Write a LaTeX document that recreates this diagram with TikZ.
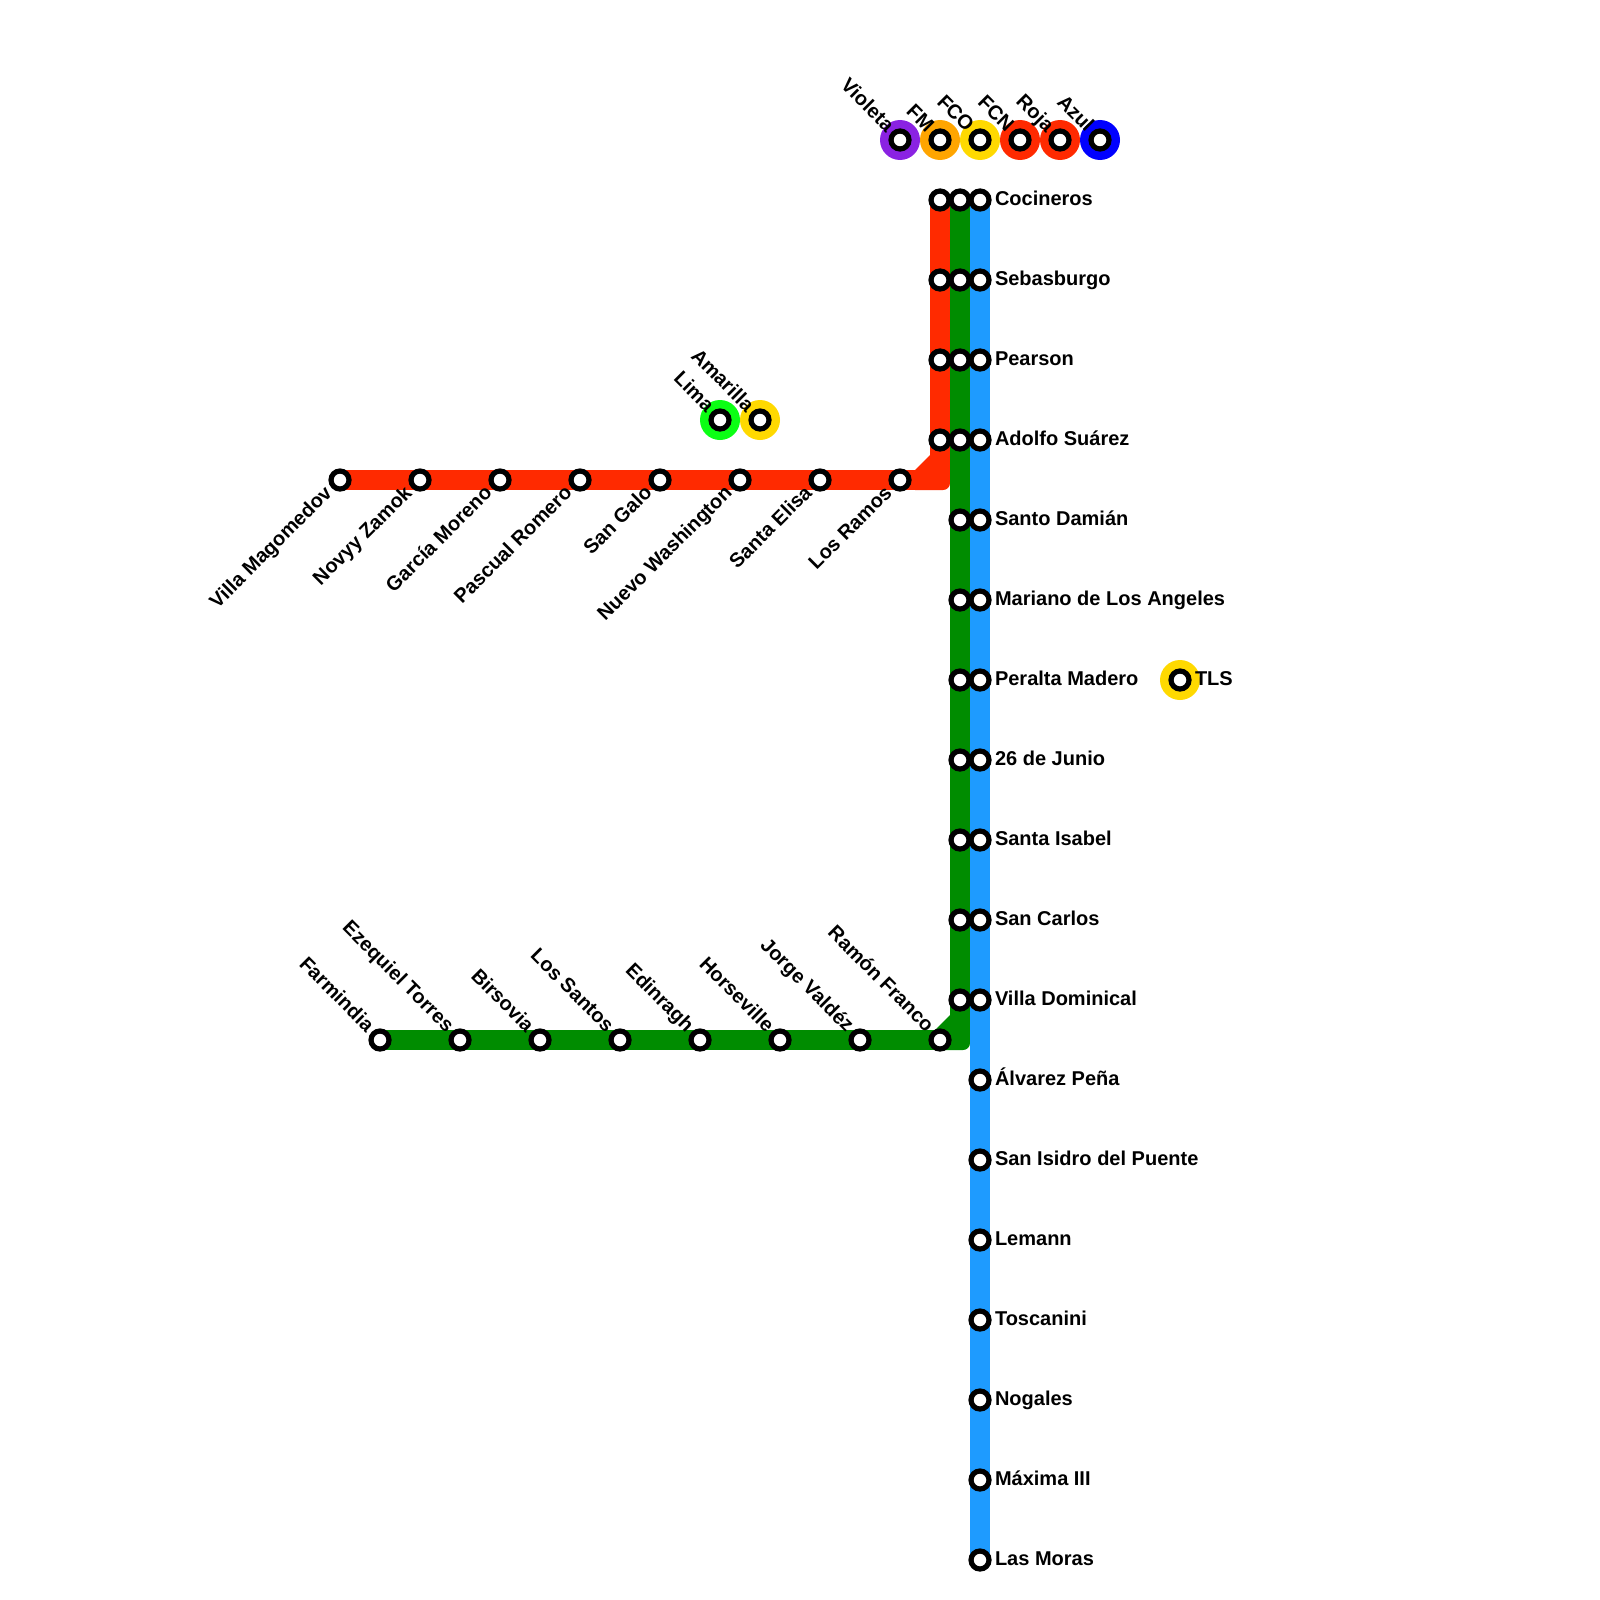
\documentclass[tikz,border=0pt]{standalone}
\usepackage{fontspec}
\setmainfont{Liberation Sans}
\usetikzlibrary{backgrounds}

\definecolor{linered}{HTML}{FF2A00}
\definecolor{linegreen}{HTML}{008C00}
\definecolor{lineblue}{HTML}{1E9BFF}
\definecolor{hubviolet}{HTML}{8A22E2}
\definecolor{huborange}{HTML}{FFA500}
\definecolor{hubyellow}{HTML}{FFD900}
\definecolor{hublime}{HTML}{0BFF14}
\definecolor{hubblue}{HTML}{0000FF}

\begin{document}
\begin{tikzpicture}[
    x=1pt, y=-1pt,
    stn/.style={circle, draw=black, fill=white, line width=5.2pt, minimum size=18pt, inner sep=0pt},
    hub/.style={circle, minimum size=40pt, inner sep=0pt, outer sep=0pt},
    metro/.style={line width=20pt, line join=round},
    lbl/.style={font=\fontsize{20}{24}\selectfont\bfseries, inner sep=0pt, outer sep=0pt},
    lbl-r/.style={lbl, anchor=base west, xshift=15pt, yshift=-5.4pt},
    lbl-up/.style={lbl, anchor=base east, rotate=-45, xshift=-15pt, yshift=-5pt},
    lbl-dn/.style={lbl, anchor=base east, rotate=45, xshift=-15pt, yshift=-5pt}
  ]
\useasboundingbox (0,0) rectangle (1600,1600);

% Separate hubs
\foreach \x/\col/\name in {900/hubviolet/Violeta, 940/huborange/FM, 980/hubyellow/FCO, 1020/linered/FCN, 1060/linered/Roja, 1100/hubblue/Azul} {
    \node[hub, fill=\col] (hub-\name) at (\x,140) {};
}
\node[hub, fill=hublime] (hub-Lima) at (720,420) {};
\node[hub, fill=hubyellow] (hub-Amarilla) at (760,420) {};
\node[hub, fill=hubyellow] (hub-TLS) at (1180,680) {};

\foreach \name in {Violeta, FM, FCO, FCN, Roja, Azul, Lima, Amarilla, TLS} {
    \node[stn] (st-\name) at (hub-\name) {};
}

% Red line stations
\foreach \x/\i in {340/1, 420/2, 500/3, 580/4, 660/5, 740/6, 820/7, 900/8} {
    \node[stn] (r\i) at (\x,480) {};
}
\foreach \y/\i in {200/1, 280/2, 360/3, 440/4} {
    \node[stn] (rv\i) at (940,\y) {};
}

% Green line stations
\foreach \x/\i in {380/1, 460/2, 540/3, 620/4, 700/5, 780/6, 860/7, 940/8} {
    \node[stn] (g\i) at (\x,1040) {};
}
\foreach \y/\i in {200/1, 280/2, 360/3, 440/4, 520/5, 600/6, 680/7, 760/8, 840/9, 920/10, 1000/11} {
    \node[stn] (gv\i) at (960,\y) {};
}

% Blue line stations
\foreach \y/\i/\name in {200/1/Cocineros, 280/2/Sebasburgo, 360/3/Pearson, 440/4/Adolfo Suárez, 520/5/Santo Damián, 600/6/Mariano de Los Angeles, 680/7/Peralta Madero, 760/8/26 de Junio, 840/9/Santa Isabel, 920/10/San Carlos, 1000/11/Villa Dominical, 1080/12/Álvarez Peña, 1160/13/San Isidro del Puente, 1240/14/Lemann, 1320/15/Toscanini, 1400/16/Nogales, 1480/17/Máxima III, 1560/18/Las Moras} {
    \node[stn] (b\i) at (980,\y) {};
    \node[lbl-r] (lb\i) at (b\i.center) {\name};
}

% Lines
\coordinate (redbend) at (940,480);
\coordinate (greenbend) at (960,1040);
\begin{scope}[on background layer]
\draw[metro, linered] (r1.center) -- (redbend) -- (rv1.center);
\fill[linered] (915,470) -- (930,455) -- (950,455) [rounded corners=7pt] -- (950,490) [sharp corners] -- (915,490) -- cycle;
\draw[metro, linegreen] (g1.center) -- (greenbend) -- (gv1.center);
\fill[linegreen] (935,1030) -- (950,1015) -- (970,1015) [rounded corners=7pt] -- (970,1050) [sharp corners] -- (935,1050) -- cycle;
\draw[metro, lineblue] (b1.center) -- (b18.center);
\end{scope}

% Slanted labels
\foreach \i/\name in {1/Villa Magomedov, 2/Novyy Zamok, 3/García Moreno, 4/Pascual Romero, 5/San Galo, 6/Nuevo Washington, 7/Santa Elisa, 8/Los Ramos} {
    \node[lbl-dn] (lr\i) at (r\i.center) {\name};
}
\foreach \i/\name in {1/Farmindia, 2/Ezequiel Torres, 3/Birsovia, 4/Los Santos, 5/Edinragh, 6/Horseville, 7/Jorge Valdéz, 8/Ramón Franco} {
    \node[lbl-up] (lg\i) at (g\i.center) {\name};
}
\foreach \name in {Violeta, FM, FCO, FCN, Roja, Azul, Lima, Amarilla} {
    \node[lbl-up] (lh-\name) at (st-\name.center) {\name};
}
\node[lbl-r] (lh-TLS) at (st-TLS.center) {TLS};

\end{tikzpicture}
\end{document}
